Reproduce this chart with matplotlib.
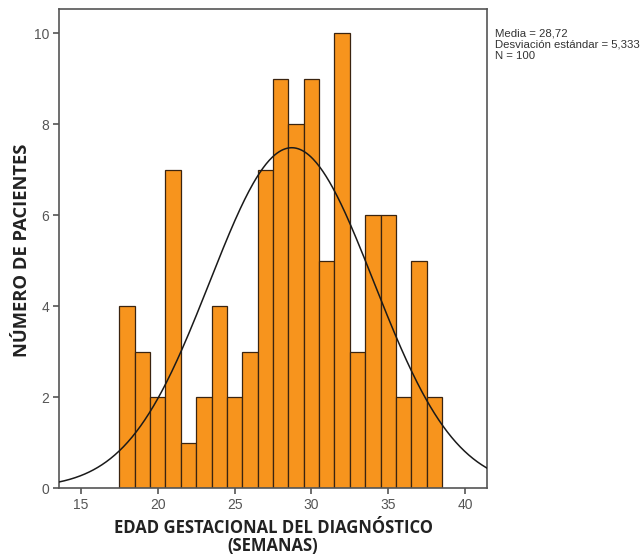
import numpy as np
import matplotlib
matplotlib.use("Agg")
import matplotlib.pyplot as plt
from matplotlib import font_manager

# Weekly bins (centres) and patient counts
bin_centers = [18, 19, 20, 21, 22, 23, 24, 25, 26, 27, 28, 29, 30, 31, 32, 33, 34, 35, 36, 37, 38]
counts = [4, 3, 2, 7, 1, 2, 4, 2, 3, 7, 9, 8, 9, 5, 10, 3, 6, 6, 2, 5, 2]
bin_width = 1.0

mean = 28.72
std = 5.333
n = 100

x_ticks = [15, 20, 25, 30, 35, 40]
y_ticks = [0, 2, 4, 6, 8, 10]

def pick(names):
    avail = {f.name for f in font_manager.fontManager.ttflist}
    for nm in names:
        if nm in avail:
            return nm
    return "DejaVu Sans"

narrow = pick(["Liberation Sans Narrow", "Liberation Sans", "DejaVu Sans"])
label_font = pick(["Open Sans", "Lato", "DejaVu Sans"])

fig = plt.figure(figsize=(6.42, 5.56), dpi=100)
ax = fig.add_axes([0.0919, 0.1223, 0.6667, 0.8615])

ax.bar(bin_centers, counts, width=bin_width, color="#F7941D",
       edgecolor="#3a2410", linewidth=0.9, zorder=2)

xlim = (13.57, 41.43)
xs = np.linspace(xlim[0], xlim[1], 400)
pdf = n * bin_width / (std * np.sqrt(2 * np.pi)) * np.exp(-0.5 * ((xs - mean) / std) ** 2)
ax.plot(xs, pdf, color="#1a1a1a", linewidth=1.1, zorder=3)

ax.set_xlim(*xlim)
ax.set_ylim(0, 10.53)
ax.set_xticks(x_ticks)
ax.set_yticks(y_ticks)

for side in ["left", "right", "top", "bottom"]:
    ax.spines[side].set_color("#555555")
    ax.spines[side].set_linewidth(1.2)

ax.tick_params(axis="both", direction="out", length=4, width=1.2,
               color="#555555", labelcolor="#555555", labelsize=10, pad=3)
for lab in ax.get_xticklabels() + ax.get_yticklabels():
    lab.set_fontfamily(narrow)

# Axis titles
fig.text(22 / 642, 1 - 250 / 556, "NÚMERO DE PACIENTES", rotation=90,
         fontsize=13.2, fontweight="bold", family=label_font, color="#222222",
         ha="center", va="center")
fig.text(273 / 642, 1 - 537 / 556, "EDAD GESTACIONAL DEL DIAGNÓSTICO\n(SEMANAS)",
         fontsize=12, fontweight="bold", family=label_font, color="#222222",
         ha="center", va="center", linespacing=0.95)

fig.text(495 / 642, 1 - 29 / 556, "Media = 28,72\nDesviación estándar = 5,333\nN = 100",
         fontsize=8.2, family=narrow, color="#333333", va="top", ha="left",
         linespacing=1.12)

fig.savefig("out.png", dpi=100)
